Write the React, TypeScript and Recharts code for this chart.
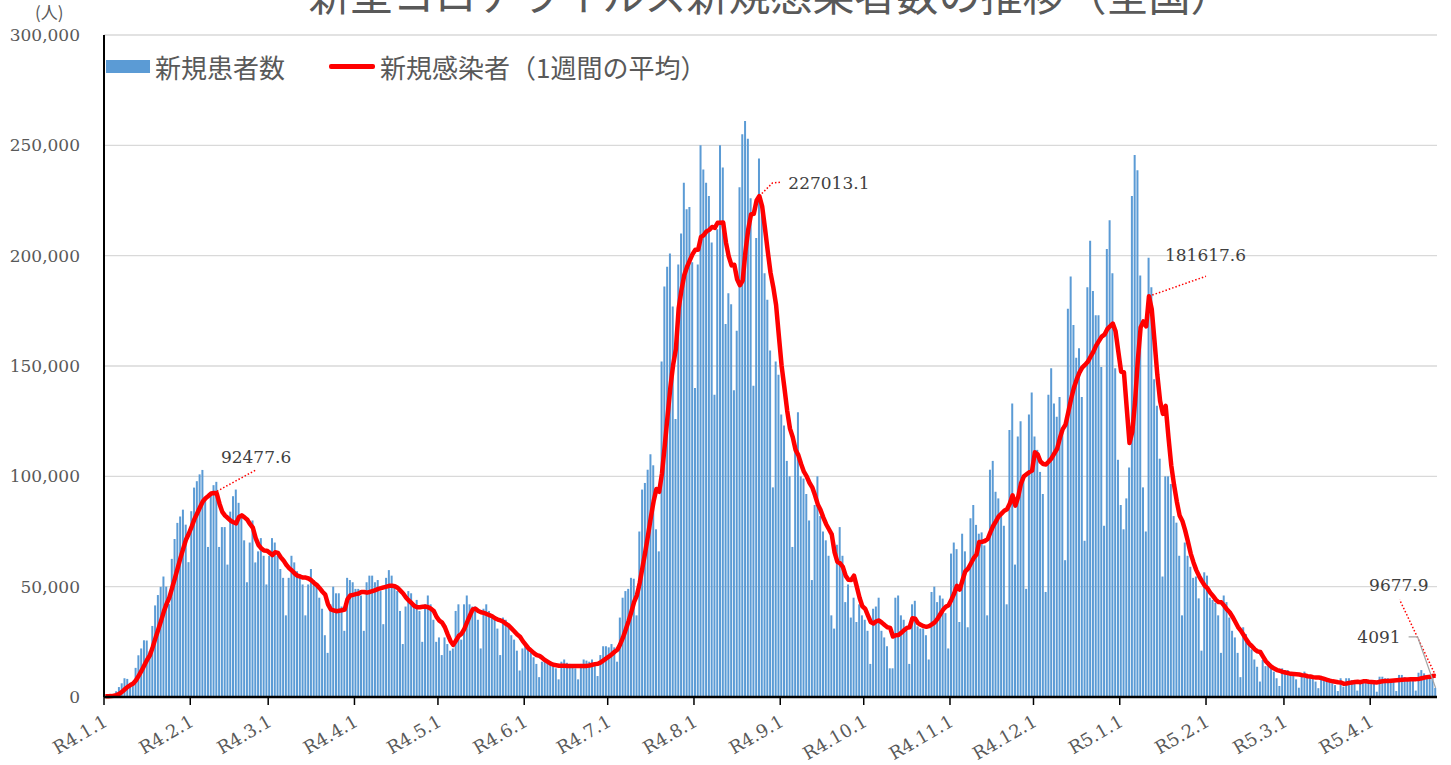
import React from 'react'
import {
  ComposedChart,
  Bar,
  Line,
  XAxis,
  YAxis,
  CartesianGrid,
  ReferenceDot,
} from 'recharts'

// 日別の新規患者数（千人） 2022-01-01(土) 〜 2023-04-24(月)、1行 = 1週間
const dailyCases = [
  0.5, 0.55, 0.8, 1.3, 2.6, 4.5, 6.2,
  8.5, 8.2, 6.4, 6.4, 13.2, 18.9, 22,
  25.7, 25.6, 20.7, 32.2, 41.5, 46.2, 49.9,
  54.6, 50, 42.1, 62.6, 71.6, 78.9, 81.8,
  84.9, 78.1, 61.1, 84.2, 94.9, 97.8, 100.9,
  102.9, 89, 68, 92, 96, 97.5, 68,
  77, 77, 60, 84, 91, 94, 88,
  82, 71, 52, 70, 80, 61, 66,
  72, 64, 51, 64, 72, 70, 64,
  58, 54, 37, 54, 64, 61, 57,
  55, 51, 37, 51, 58, 53, 50,
  45, 40, 28, 20, 42, 50, 47,
  47, 41, 30, 54, 53, 52, 49,
  49, 46, 30, 52, 55, 55, 52,
  53, 48, 33, 54, 57.5, 55, 51,
  48, 39, 24, 41, 48, 47, 42,
  44, 39, 25, 42, 46, 42, 35,
  25, 27, 19, 27, 24, 21, 22,
  39, 42, 26, 42, 46, 42, 41,
  41, 35, 22, 40, 42, 39, 37,
  35, 31, 19, 36, 35, 33, 28,
  26, 21, 12, 22, 24, 22, 20,
  18, 15, 9, 16, 17, 16, 15,
  14.5, 13, 8, 16, 17, 15.5, 15,
  14.5, 13, 8, 15, 17, 16.5, 16,
  17, 15, 9.5, 19, 23, 23, 22.5,
  24, 22.5, 16, 36, 45, 48, 49,
  54, 53.6, 37, 75, 94, 97, 103,
  110, 105, 76, 66, 152, 186, 195,
  201, 177, 126, 196, 210, 233, 221,
  222, 197, 140, 196, 250, 239, 233,
  227, 206, 137, 212, 250, 240, 169,
  183, 178, 139, 166, 231, 255, 261,
  253, 226, 141, 208, 244, 224, 192,
  180, 157, 95, 152, 146, 128, 123,
  107, 100, 68, 112, 129, 100, 99,
  92, 80, 53, 87, 100, 82, 75,
  71, 64, 37, 31, 69, 77, 64,
  43, 51, 36, 45, 34, 42, 37,
  35, 30, 15, 40, 41, 45, 30,
  27, 23, 13, 13, 45, 46, 37,
  35, 30, 15, 42, 43.6, 32, 31,
  31, 28, 17, 47.6, 50, 43, 46,
  44.6, 38, 22, 65, 70, 67, 34,
  74, 66, 31.6, 81, 87, 78, 74,
  74.6, 68.7, 37, 103, 107, 93, 90,
  83, 77.6, 42, 121, 133, 60, 118,
  125, 100, 49, 128, 138, 118, 112,
  102, 92, 47.6, 137, 149, 133, 127,
  136, 120, 62, 176, 190.6, 168.6, 153.7,
  158, 136, 70.8, 185.7, 206.8, 184, 173,
  173, 149.6, 77.6, 203, 216, 192, 149,
  107.5, 87, 76, 90, 104, 227, 245.6,
  238.7, 191, 95, 75, 199, 185.7, 144,
  132, 108, 54.6, 100, 100, 96.5, 82,
  79, 64, 37, 70, 64, 59, 54,
  54.6, 44.7, 21, 56.5, 55, 45, 44,
  42.7, 37, 20, 46, 43, 36, 30,
  27, 20, 9, 31.6, 28.5, 23.6, 21.6,
  17, 13.7, 7, 16.8, 14, 14.5, 13,
  11.5, 8.5, 5, 13, 12.2, 12.2, 11,
  10.7, 8, 4.2, 10.7, 11.5, 10, 10,
  8.5, 7, 4, 9.2, 8.5, 7.7, 7,
  6.2, 5.4, 2.7, 8.5, 4.7, 8.5, 8.5,
  7.7, 7.2, 2.9, 7.4, 7.7, 8, 7.7,
  7, 6.2, 2.4, 9.2, 9.2, 8.5, 8.5,
  8, 7, 2.7, 10, 10, 9, 8.5,
  8.5, 7.7, 2.9, 11, 12.2, 10.7, 10,
  10, 9.5, 4.091,
]

// 新規感染者 1週間の平均（千人）
const weeklyAvg = [
  0.3, 0.35, 0.4, 0.55, 0.85, 1.4, 2.35,
  3.5, 4.6, 5.4, 6.1, 7.6, 9.7, 11.9,
  14.4, 16.9, 18.9, 22.6, 26.7, 30.6, 34.5,
  38.7, 42.2, 45.2, 49.6, 53.9, 58.5, 63.1,
  67.4, 71.4, 74.1, 77.2, 80.6, 83.3, 86,
  88.6, 90.1, 91.1, 92.2, 92.4776, 92.3, 87.6,
  83.9, 82.2, 81.1, 79.9, 79.2, 78.7, 81.6,
  82.3, 81.4, 80.3, 78.3, 76.7, 72, 68.9,
  67.4, 66.4, 66.3, 65.4, 64.3, 65.6, 65.3,
  63.3, 61.9, 59.9, 58.4, 57.3, 56, 55,
  54.6, 54.1, 54.1, 53.7, 52.9, 51.7, 50.7,
  49.3, 47.7, 46.4, 42, 39.7, 39.3, 38.9,
  39.1, 39.3, 39.6, 44.4, 46, 46.3, 46.6,
  46.9, 47.6, 47.6, 47.3, 47.6, 48, 48.4,
  49, 49.3, 49.7, 50, 50.4, 50.4, 50.2,
  49.5, 48.2, 46.9, 45.1, 43.7, 42.6, 41.3,
  40.7, 40.7, 40.9, 41, 40.7, 40, 39,
  36.3, 34.6, 33.7, 31.6, 28.4, 25.4, 23.6,
  25.6, 27.7, 28.7, 30.9, 34, 37, 39.7,
  40, 39, 38.4, 38.1, 37.6, 37.1, 36.6,
  35.7, 35.1, 34.7, 34.1, 33.1, 32.3, 31,
  29.7, 28.3, 27.3, 25.3, 23.7, 22.1, 21,
  19.9, 19, 18.6, 17.7, 16.7, 15.9, 15.1,
  14.6, 14.4, 14.2, 14.2, 14.2, 14.1, 14.1,
  14.1, 14.1, 14.1, 14, 14, 14.1, 14.3,
  14.6, 14.9, 15.1, 15.7, 16.6, 17.5, 18.4,
  19.4, 20.5, 21.4, 23.9, 27, 30.6, 34.4,
  38.6, 43.1, 46.1, 51.7, 58.7, 65.7, 73.4,
  81.4, 88.7, 94.3, 93, 101.3, 114, 127.1,
  140.1, 150.4, 157.6, 176.1, 184.4, 191.1, 194.9,
  197.9, 200.7, 202.7, 202.7, 208.4, 209.3, 211,
  211.7, 213, 212.6, 214.9, 214.9, 215, 205.9,
  199.6, 195.6, 195.9, 189.3, 186.6, 188.7, 201.9,
  211.9, 218.7, 219, 225, 227.0131, 222.4, 212.6,
  202.1, 192.3, 185.7, 177.7, 163.7, 150, 140.1,
  129.7, 121.6, 117.7, 112, 109.6, 105.6, 102.1,
  100, 97.1, 95, 91.4, 87.3, 84.7, 81.3,
  78.3, 76, 73.7, 65.7, 61.3, 60.6, 59,
  55, 53.1, 53, 55, 50, 45, 41.1,
  40, 37, 34, 33.3, 34.3, 34.7, 33.7,
  32.6, 31.6, 31.3, 27.4, 28, 28.1, 29.1,
  30.3, 31.3, 31.6, 35.7, 35.5, 33.5, 32.7,
  32.1, 31.8, 32.1, 32.9, 33.8, 35.4, 37.5,
  39.5, 40.9, 41.6, 44.1, 46.9, 50.4, 48.7,
  52.9, 56.9, 58.2, 60.5, 62.9, 64.5, 70.2,
  70.3, 70.7, 71.5, 74.6, 77.5, 79.6, 81.9,
  83.1, 84.4, 85.1, 87.7, 91.4, 86.7, 90.7,
  96.7, 99.9, 100.9, 101.9, 102.6, 110.9, 110,
  106.7, 105.6, 105.4, 106.7, 108.2, 110.4, 112.5,
  117.4, 121.4, 123.4, 129, 134.9, 140, 143.8,
  147, 149.3, 150.5, 151.9, 154.2, 156.4, 159.2,
  161.3, 163.3, 164.2, 166.7, 168, 169.2, 165.7,
  156.4, 147.4, 147.2, 131.1, 115.1, 120.1, 133.9,
  152.6, 167.5, 170.2, 168, 181.6176, 175.7, 161.2,
  146, 134.1, 128.3, 131.9, 117.8, 105, 96.2,
  88.6, 82.3, 79.8, 75.5, 70.4, 65, 61,
  57.5, 54.8, 52.5, 50.5, 49.3, 47.3, 45.8,
  44.1, 43, 42.9, 41.4, 39.7, 38.4, 36.4,
  34.1, 31.7, 30.1, 28.1, 26, 24.2, 23,
  21.6, 20.7, 20.4, 18.3, 16.2, 14.9, 13.7,
  12.9, 12.2, 11.9, 11.4, 11.1, 10.8, 10.5,
  10.4, 10.3, 10.2, 9.9, 9.8, 9.4, 9.3,
  9, 8.8, 8.8, 8.6, 8.2, 7.8, 7.4,
  7.1, 6.9, 6.7, 6.6, 6, 6.1, 6.4,
  6.6, 6.8, 6.9, 6.7, 7.1, 7.1, 6.9,
  6.8, 6.7, 6.6, 6.9, 7.1, 7.2, 7.3,
  7.4, 7.5, 7.6, 7.7, 7.8, 7.9, 7.9,
  8, 8.1, 8.1, 8.2, 8.5, 8.8, 9,
  9.2, 9.5, 9.6779,
]

// 月初の日（2022-01-01 からの日数）とその表示
const monthTicks = [0, 31, 59, 90, 120, 151, 181, 212, 243, 273, 304, 334, 365, 396, 424, 455]
const monthLabels = [
  'R4.1.1', 'R4.2.1', 'R4.3.1', 'R4.4.1', 'R4.5.1', 'R4.6.1', 'R4.7.1', 'R4.8.1',
  'R4.9.1', 'R4.10.1', 'R4.11.1', 'R4.12.1', 'R5.1.1', 'R5.2.1', 'R5.3.1', 'R5.4.1',
]
const yTicks = [0, 50, 100, 150, 200, 250, 300]

// 注記
const avgNoteDays = [39, 235, 375, 478]
const avgNoteTexts = ['92477.6', '227013.1', '181617.6', '9677.9']
const lastCaseText = '4091'

const data = dailyCases.map((v, i) => ({ x: i + 0.5, cases: v, avg: weeklyAvg[i] }))

const NUM_FONT = '"DejaVu Serif", serif'
const JP_FONT = '"Noto Sans CJK JP", "Noto Sans", sans-serif'
const TEXT = '#595959'
const RED = '#ff0000'

function MonthTick({ x, y, payload }: any) {
  const i = monthTicks.indexOf(payload.value)
  return (
    <text
      transform={`translate(${x + 5},${y + 18}) rotate(-30)`}
      textAnchor="end"
      fill={TEXT}
      fontSize={18}
      fontFamily={NUM_FONT}
    >
      {monthLabels[i]}
    </text>
  )
}

function NoteLabel(props: any) {
  const { viewBox, which } = props
  if (!viewBox) return null
  const x = viewBox.x + (viewBox.width || 0) / 2
  const y = viewBox.y + (viewBox.height || 0) / 2
  const dotted = { stroke: RED, strokeWidth: 1.5, strokeDasharray: '1.5 2', fill: 'none' }
  const txt = { fill: '#404040', fontSize: 17, fontFamily: NUM_FONT }
  if (which === 0) {
    return (
      <g>
        <line x1={x} y1={y} x2={x + 42} y2={y - 23} {...dotted} />
        <text x={x + 7} y={y - 30} {...txt}>{avgNoteTexts[0]}</text>
      </g>
    )
  }
  if (which === 1) {
    return (
      <g>
        <polyline points={`${x},${y} ${x + 13},${y - 13} ${x + 22},${y - 14}`} {...dotted} />
        <text x={x + 29} y={y - 7} {...txt}>{avgNoteTexts[1]}</text>
      </g>
    )
  }
  if (which === 2) {
    return (
      <g>
        <line x1={x} y1={y} x2={x + 57} y2={y - 20} {...dotted} />
        <text x={x + 16} y={y - 35} {...txt}>{avgNoteTexts[2]}</text>
      </g>
    )
  }
  if (which === 3) {
    return (
      <g>
        <line x1={x} y1={y} x2={x - 36} y2={y - 76} {...dotted} />
        <text x={x - 7} y={y - 85} textAnchor="end" {...txt}>{avgNoteTexts[3]}</text>
      </g>
    )
  }
  // 最終日の棒
  return (
    <g>
      <polyline
        points={`${x},${y} ${x - 18},${y - 51} ${x - 27},${y - 51}`}
        stroke="#a6a6a6"
        strokeWidth={1.2}
        fill="none"
      />
      <text x={x - 35} y={y - 45} textAnchor="end" {...txt}>{lastCaseText}</text>
    </g>
  )
}

export default function App() {
  return (
    <div style={{ position: 'relative', width: 1451, height: 765, overflow: 'hidden', background: '#fff' }}>
      <style>{'body{margin:0}'}</style>
      <div
        style={{
          position: 'absolute',
          left: 104,
          width: 1333,
          top: -28,
          textAlign: 'center',
          fontFamily: JP_FONT,
          fontSize: 42,
          lineHeight: '42px',
          color: TEXT,
          whiteSpace: 'nowrap',
        }}
      >
        新型コロナウイルス新規感染者数の推移（全国）
      </div>
      <div
        style={{
          position: 'absolute',
          left: 35,
          top: 2,
          fontFamily: JP_FONT,
          fontSize: 17,
          lineHeight: '19px',
          color: TEXT,
        }}
      >
        (人)
      </div>

      <ComposedChart
        width={1451}
        height={765}
        data={data}
        margin={{ top: 35, right: 14, bottom: 8, left: 0 }}
      >
        <CartesianGrid vertical={false} stroke="#d9d9d9" strokeWidth={1.3} />
        <XAxis
          dataKey="x"
          type="number"
          domain={[0, 479]}
          ticks={monthTicks}
          interval={0}
          height={60}
          tick={<MonthTick />}
          tickSize={8}
          axisLine={{ stroke: '#000', strokeWidth: 2.5 }}
          tickLine={{ stroke: '#000', strokeWidth: 1.5 }}
        />
        <YAxis
          width={104}
          domain={[0, 300]}
          ticks={yTicks}
          interval={0}
          tickFormatter={(v: number) => (v * 1000).toLocaleString('en-US')}
          tick={{ fill: TEXT, fontSize: 17, fontFamily: NUM_FONT }}
          tickLine={false}
          tickSize={22}
          tickMargin={2}
          axisLine={{ stroke: '#000', strokeWidth: 2 }}
        />
        <Bar dataKey="cases" fill="#5b9bd5" barSize={2} isAnimationActive={false} />
        <Line
          dataKey="avg"
          type="linear"
          stroke={RED}
          strokeWidth={4.5}
          strokeLinejoin="round"
          dot={false}
          activeDot={false}
          isAnimationActive={false}
        />
        {avgNoteDays.map((d, k) => (
          <ReferenceDot
            key={d}
            x={d + 0.5}
            y={weeklyAvg[d]}
            r={0}
            fill="none"
            stroke="none"
            label={<NoteLabel which={k} />}
          />
        ))}
        <ReferenceDot
          x={dailyCases.length - 0.5}
          y={dailyCases[dailyCases.length - 1]}
          r={0}
          fill="none"
          stroke="none"
          label={<NoteLabel which={4} />}
        />
      </ComposedChart>

      <div
        style={{
          position: 'absolute',
          left: 106,
          top: 50,
          height: 32,
          display: 'flex',
          alignItems: 'center',
          fontFamily: JP_FONT,
          fontSize: 26,
          color: TEXT,
          whiteSpace: 'nowrap',
        }}
      >
        <span style={{ display: 'inline-block', width: 44, height: 13, background: '#5b9bd5', marginRight: 5 }} />
        <span>新規患者数</span>
        <span
          style={{
            display: 'inline-block',
            width: 46,
            height: 5,
            background: RED,
            borderRadius: 2,
            marginLeft: 44,
            marginRight: 5,
          }}
        />
        <span>新規感染者（1週間の平均）</span>
      </div>
    </div>
  )
}
